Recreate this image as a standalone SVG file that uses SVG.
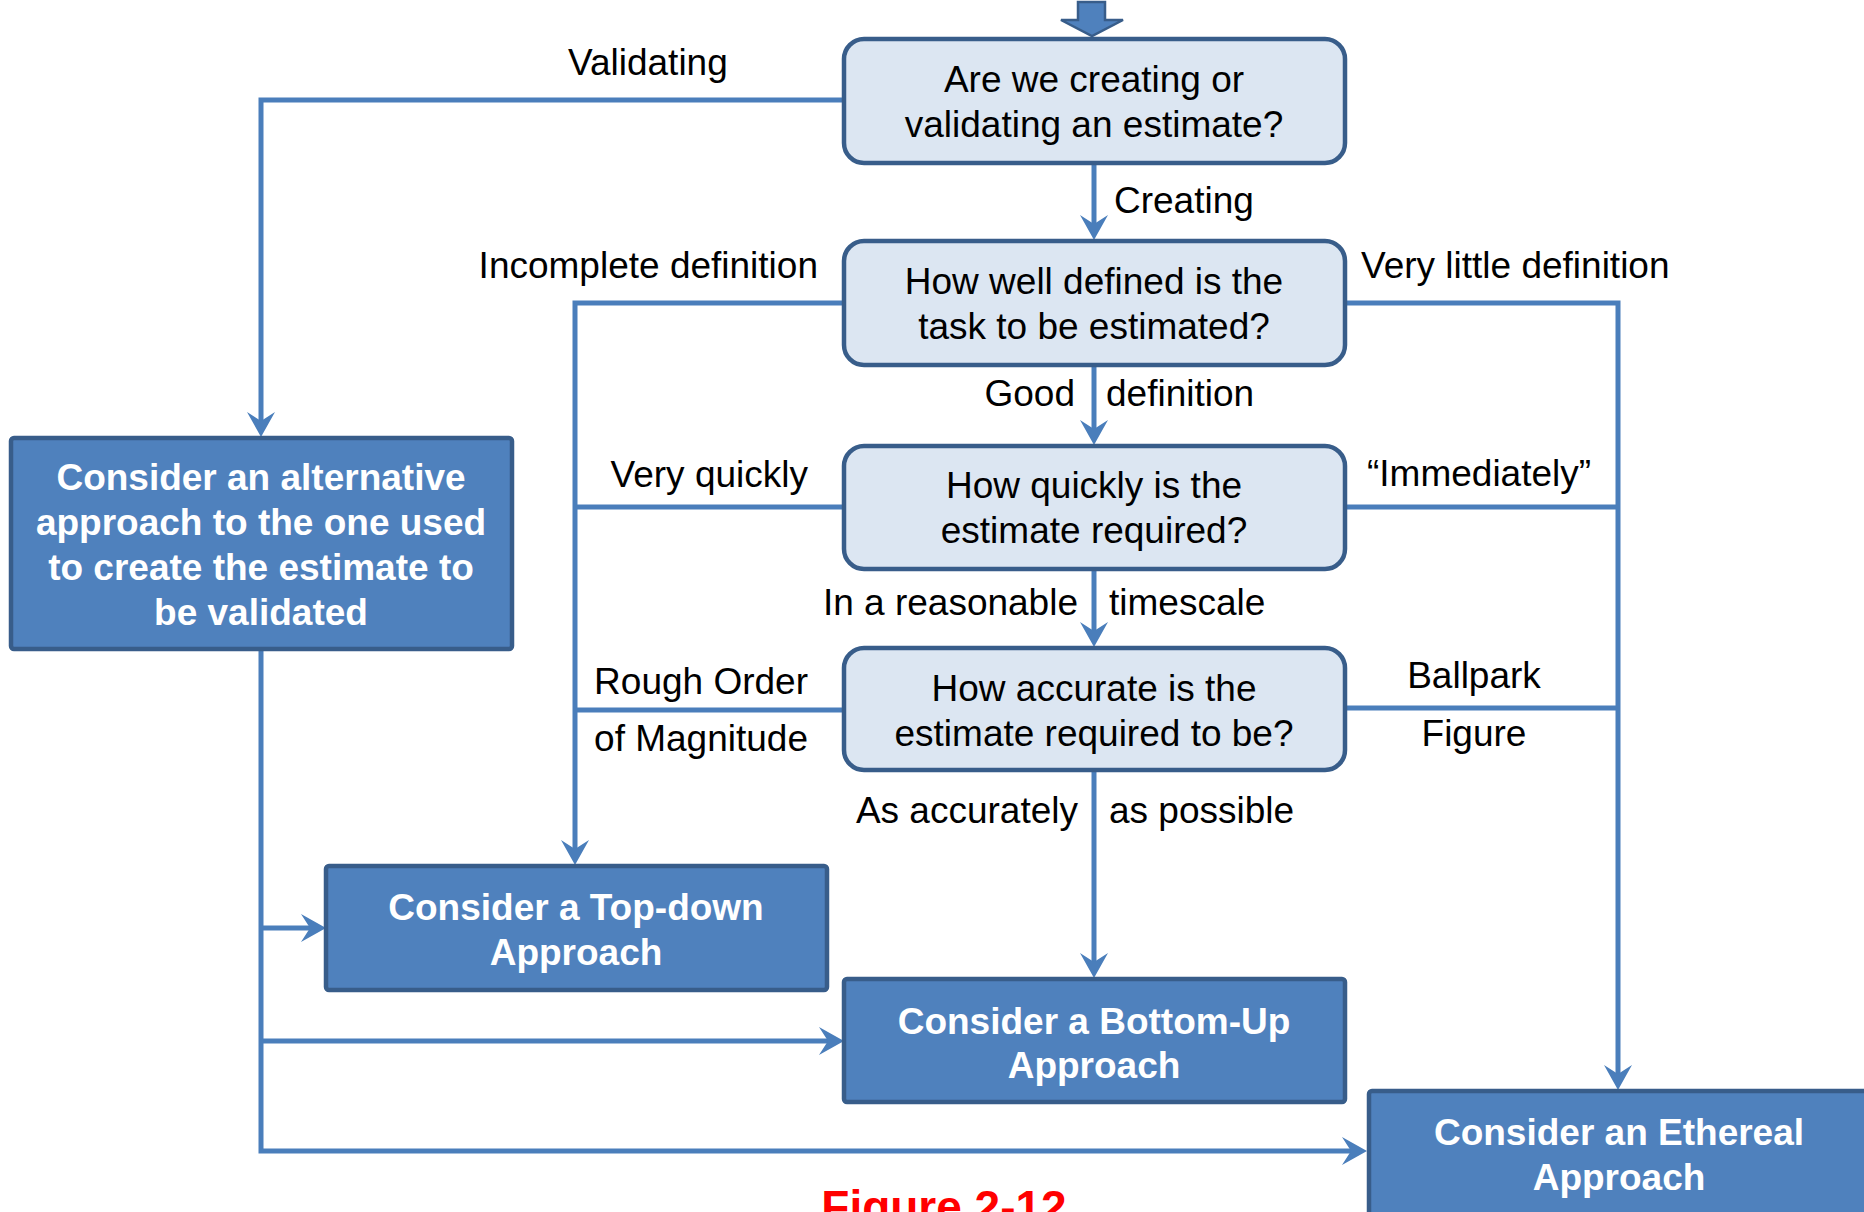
<svg xmlns="http://www.w3.org/2000/svg" width="1864" height="1212" viewBox="0 0 1864 1212">
<style>
.q{fill:#DCE6F2;stroke:#385D8A;stroke-width:4.5}
.a{fill:#4F81BD;stroke:#385D8A;stroke-width:4.5}
.qt{font-family:"Liberation Sans",Arial,sans-serif;font-size:37px;fill:#000;text-anchor:middle}
.at{font-family:"Liberation Sans",Arial,sans-serif;font-size:37px;font-weight:bold;fill:#fff;text-anchor:middle}
.lb{font-family:"Liberation Sans",Arial,sans-serif;font-size:37px;fill:#000}
.c{fill:none;stroke:#4A7EBB;stroke-width:5}
.ca{fill:none;stroke:#4A7EBB;stroke-width:5;marker-end:url(#arr)}
</style>
<defs>
<marker id="arr" viewBox="-27 -15 30 30" refX="-12" refY="0" markerWidth="30" markerHeight="30" markerUnits="userSpaceOnUse" orient="auto">
<path d="M0,0 L-25,-14 L-16,0 L-25,14 Z" fill="#4A7EBB"/>
</marker>
</defs>
<rect width="1864" height="1212" fill="#fff"/>

<g id="connectors">
<path class="ca" d="M844,100 H261 V425"/>
<path class="ca" d="M1094,163 V228"/>
<path class="ca" d="M1094,365 V433"/>
<path class="ca" d="M1094,570 V635"/>
<path class="ca" d="M1094,770 V966"/>
<path class="ca" d="M844,303 H575 V853"/>
<path class="c" d="M844,507 H575"/>
<path class="c" d="M844,710 H575"/>
<path class="ca" d="M1345,303 H1618 V1078"/>
<path class="c" d="M1345,507 H1618"/>
<path class="c" d="M1345,708 H1618"/>
<path class="ca" d="M261,649 V1151 H1355"/>
<path class="ca" d="M261,928 H314"/>
<path class="ca" d="M261,1041 H832"/>
</g>

<g id="start-arrow">
<path d="M1078,2 H1105 V20 H1123 L1092,36 L1061,20 H1078 Z" fill="#4F81BD" stroke="#385D8A" stroke-width="2.5"/>
</g>

<g id="q1">
<rect class="q" x="844" y="39" width="501" height="124" rx="20"/>
<text class="qt" x="1094" y="92">Are we creating or</text>
<text class="qt" x="1094" y="137">validating an estimate?</text>
</g>
<g id="q2">
<rect class="q" x="844" y="241" width="501" height="124" rx="20"/>
<text class="qt" x="1094" y="294">How well defined is the</text>
<text class="qt" x="1094" y="339">task to be estimated?</text>
</g>
<g id="q3">
<rect class="q" x="844" y="446" width="501" height="123" rx="20"/>
<text class="qt" x="1094" y="498">How quickly is the</text>
<text class="qt" x="1094" y="543">estimate required?</text>
</g>
<g id="q4">
<rect class="q" x="844" y="648" width="501" height="122" rx="20"/>
<text class="qt" x="1094" y="701">How accurate is the</text>
<text class="qt" x="1094" y="746">estimate required to be?</text>
</g>

<g id="alt">
<rect class="a" x="11" y="438" width="501" height="211" rx="3"/>
<text class="at" x="261" y="490">Consider an alternative</text>
<text class="at" x="261" y="535">approach to the one used</text>
<text class="at" x="261" y="580">to create the estimate to</text>
<text class="at" x="261" y="625">be validated</text>
</g>
<g id="topdown">
<rect class="a" x="326" y="866" width="501" height="124" rx="3"/>
<text class="at" x="576" y="920">Consider a Top-down</text>
<text class="at" x="576" y="965">Approach</text>
</g>
<g id="bottomup">
<rect class="a" x="844" y="979" width="501" height="123" rx="3"/>
<text class="at" x="1094" y="1034">Consider a Bottom-Up</text>
<text class="at" x="1094" y="1078">Approach</text>
</g>
<g id="ethereal">
<rect class="a" x="1369" y="1091" width="501" height="126" rx="3"/>
<text class="at" x="1619" y="1145">Consider an Ethereal</text>
<text class="at" x="1619" y="1190">Approach</text>
</g>

<g id="labels">
<text class="lb" x="568" y="75">Validating</text>
<text class="lb" x="1114" y="213">Creating</text>
<text class="lb" x="818" y="278" text-anchor="end">Incomplete definition</text>
<text class="lb" x="1361" y="278">Very little definition</text>
<text class="lb" x="1075" y="406" text-anchor="end">Good</text>
<text class="lb" x="1106" y="406">definition</text>
<text class="lb" x="808" y="487" text-anchor="end">Very quickly</text>
<text class="lb" x="1367" y="486">“Immediately”</text>
<text class="lb" x="1078" y="615" text-anchor="end">In a reasonable</text>
<text class="lb" x="1109" y="615">timescale</text>
<text class="lb" x="808" y="694" text-anchor="end">Rough Order</text>
<text class="lb" x="808" y="751" text-anchor="end">of Magnitude</text>
<text class="lb" x="1474" y="688" text-anchor="middle">Ballpark</text>
<text class="lb" x="1474" y="746" text-anchor="middle">Figure</text>
<text class="lb" x="1078" y="823" text-anchor="end">As accurately</text>
<text class="lb" x="1109" y="823">as possible</text>
</g>

<g id="caption">
<text x="944" y="1223" text-anchor="middle" font-family="'Liberation Sans',Arial,sans-serif" font-size="46" font-weight="bold" fill="#FF0000">Figure 2-12</text>
</g>
</svg>
